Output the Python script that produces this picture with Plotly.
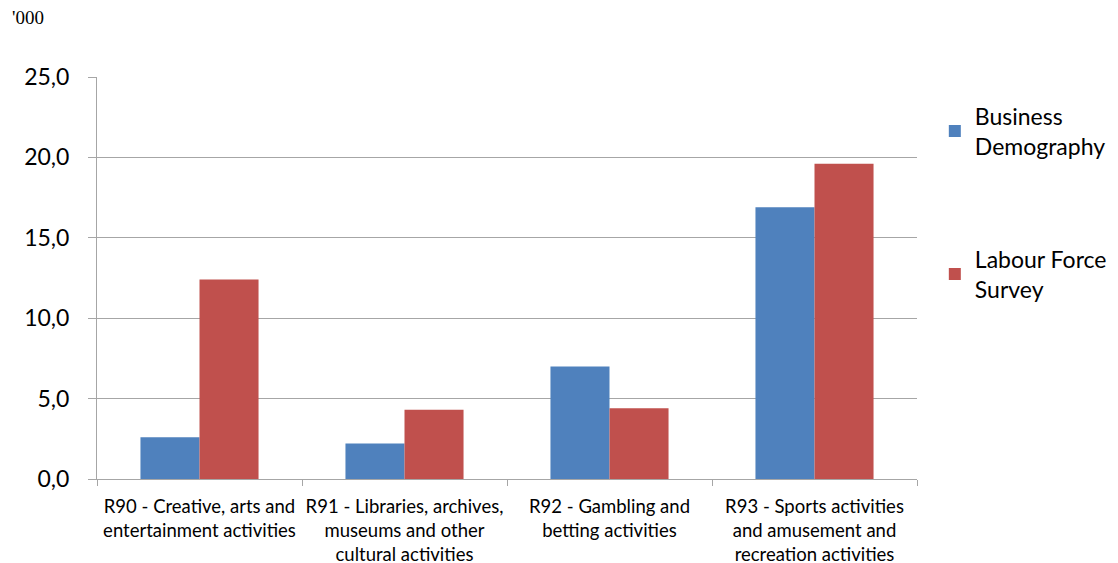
import plotly.graph_objects as go

categories = [
    "R90 - Creative, arts and<br>entertainment activities",
    "R91 - Libraries, archives,<br>museums and other<br>cultural activities",
    "R92 - Gambling and<br>betting activities",
    "R93 - Sports activities<br>and amusement and<br>recreation activities",
]
business_demography = [2.6, 2.2, 7.0, 16.9]
labour_force_survey = [12.4, 4.3, 4.4, 19.6]
series_names = ["Business<br>Demography", "Labour Force<br>Survey"]
colors = ["#4F81BD", "#C0504D"]

font_family = "Lato, Open Sans, sans-serif"

fig = go.Figure()
for name, vals, col, grp in zip(series_names, [business_demography, labour_force_survey], colors, ["a", "b"]):
    fig.add_trace(go.Bar(x=categories, y=vals, name=name, marker=dict(color=col, line=dict(width=0)), legendgroup=grp))

fig.update_layout(
    width=1118, height=563,
    margin=dict(l=89, r=209, t=69, b=92),
    paper_bgcolor="white", plot_bgcolor="white",
    separators=",.",
    barmode="group", bargap=0.424, bargroupgap=0,
    font=dict(family=font_family, color="#000000"),
    legend=dict(xref="container", yref="container", x=0.829, y=0.846, xanchor="left", yanchor="top",
                font=dict(size=23, color="#000000"),
                tracegroupgap=80, itemwidth=30, traceorder="grouped"),
    annotations=[dict(text="'000", xref="paper", yref="paper", x=-0.106, y=1.147, xanchor="left", yanchor="middle",
                      showarrow=False, font=dict(family="Liberation Serif, Times New Roman, serif", size=19, color="#000"))],
)
fig.update_yaxes(range=[0, 25], dtick=5, tickformat=".1f", showgrid=True, gridcolor="#A6A6A6", gridwidth=1,
                 showline=True, linecolor="#A6A6A6", ticks="outside", ticklen=8, tickcolor="#A6A6A6",
                 ticklabelstandoff=14,
                 tickfont=dict(size=23, family=font_family), zeroline=False)
fig.update_xaxes(showline=True, linecolor="#A6A6A6", ticks="outside", tickson="boundaries", ticklen=6,
                 tickcolor="#A6A6A6", tickfont=dict(size=18.5, family=font_family), tickangle=0, automargin=False,
                 ticklabelstandoff=11)

fig.write_html("out.html")
